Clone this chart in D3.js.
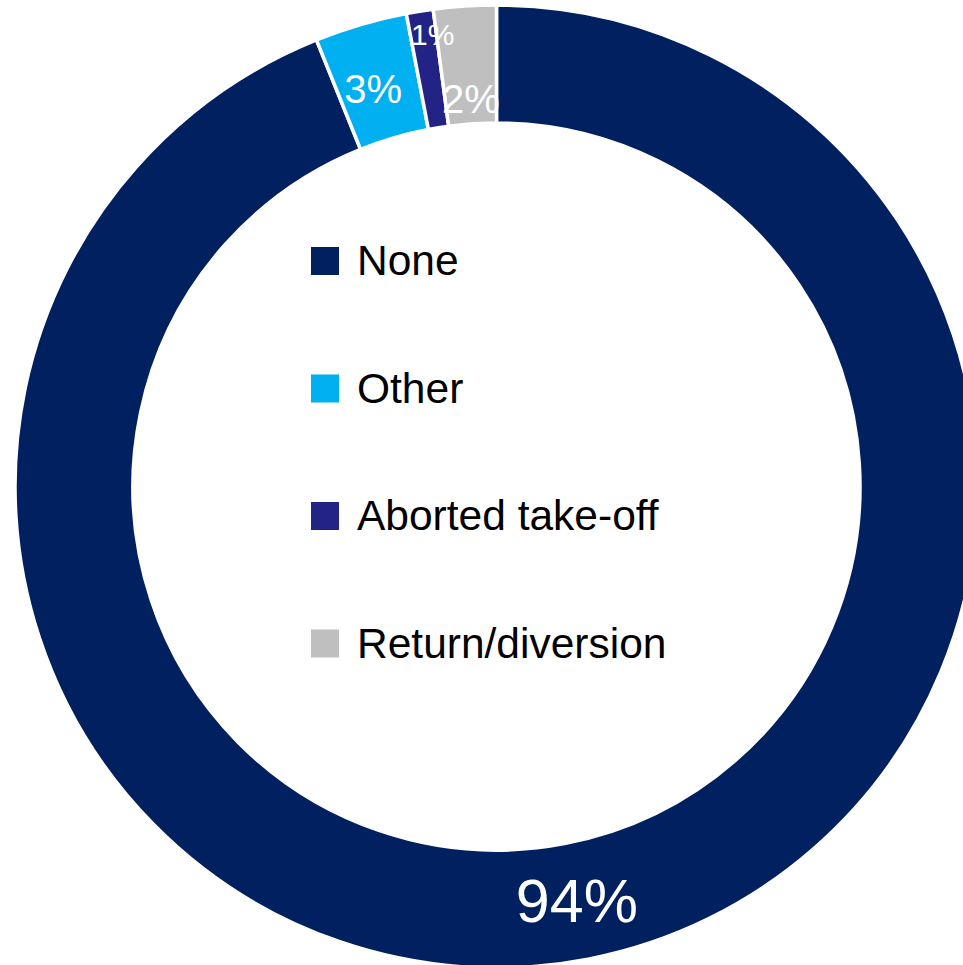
<!DOCTYPE html>
<html>
<head>
<meta charset="utf-8">
<script src="https://cdn.jsdelivr.net/npm/d3@7"></script>
<style>
  html, body { margin: 0; padding: 0; background: #fff; }
  svg { display: block; font-family: "Liberation Sans", Arial, sans-serif; }
</style>
</head>
<body>
<div id="chart"></div>
<script>
const categories = ["None", "Other", "Aborted take-off", "Return/diversion"];
const values = [93.9, 3.1, 0.9, 2.1];
const labels = ["94%", "3%", "1%", "2%"];
const colors = ["#002060", "#00B0F0", "#232385", "#BFBFBF"];

const width = 963;
const height = 965;
const cx = 496.5, cy = 486.5;
const outerR = 481.5, innerR = 363.5;

const svg = d3.select("#chart").append("svg")
    .attr("width", width)
    .attr("height", height);

const g = svg.append("g").attr("transform", `translate(${cx},${cy})`);

const pie = d3.pie().sort(null).value(d => d.value);
const arcs = pie(categories.map((c, i) => ({ name: c, value: values[i], label: labels[i], color: colors[i] })));

const arc = d3.arc().innerRadius(innerR).outerRadius(outerR);

g.selectAll("path.slice")
    .data(arcs)
    .enter().append("path")
    .attr("class", "slice")
    .attr("d", arc)
    .attr("fill", d => d.data.color)
    .attr("stroke", "#fff")
    .attr("stroke-width", 3.5);

// label radius / size tweaks for the small slices
const labelR = [422, 416, 457, 388];
const labelSize = [61, 40, 30, 40];
const labelAngleShift = [0, -0.015, 0.02, 0];

g.selectAll("text.pct")
    .data(arcs)
    .enter().append("text")
    .attr("class", "pct")
    .attr("x", (d, i) => {
      const a = (d.startAngle + d.endAngle) / 2 + labelAngleShift[i];
      return labelR[i] * Math.sin(a);
    })
    .attr("y", (d, i) => {
      const a = (d.startAngle + d.endAngle) / 2 + labelAngleShift[i];
      return -labelR[i] * Math.cos(a);
    })
    .attr("text-anchor", "middle")
    .attr("dominant-baseline", "central")
    .attr("fill", "#fff")
    .style("font-size", (d, i) => labelSize[i] + "px")
    .text(d => d.data.label);

// legend inside the hole
const legendY = d3.scalePoint().domain(categories).range([261, 643.5]);

const legend = svg.selectAll("g.legend")
    .data(categories)
    .enter().append("g")
    .attr("class", "legend")
    .attr("transform", d => `translate(311,${legendY(d)})`);

legend.append("rect")
    .attr("x", 0)
    .attr("y", -14)
    .attr("width", 28)
    .attr("height", 28)
    .attr("fill", (d, i) => colors[i]);

legend.append("text")
    .attr("x", 46)
    .attr("y", 14)
    .attr("fill", "#000")
    .style("font-size", "42.5px")
    .text(d => d);
</script>
</body>
</html>
